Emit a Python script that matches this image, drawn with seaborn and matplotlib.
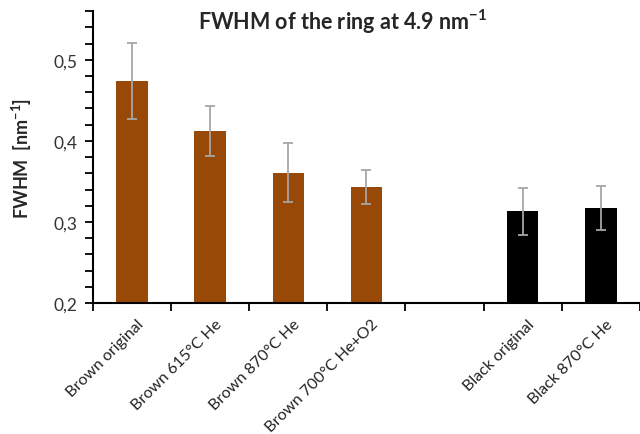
import numpy as np
import pandas as pd
import matplotlib
matplotlib.use("Agg")
import matplotlib.pyplot as plt
import matplotlib.transforms as mtransforms
from matplotlib.ticker import MultipleLocator, FuncFormatter
import seaborn as sns

# Sample names (one blank slot separates the brown and black groups)
samples = ["Brown original", "Brown 615°C He", "Brown 870°C He",
           "Brown 700°C He+O2", "", "Black original", "Black 870°C He"]
fwhm = [0.474, 0.412, 0.361, 0.343, np.nan, 0.313, 0.317]
fwhm_err = [0.047, 0.031, 0.036, 0.021, np.nan, 0.029, 0.027]
bar_colors = ["#984807", "#984807", "#984807", "#984807", "#ffffff", "#000000", "#000000"]

df = pd.DataFrame({"sample": samples, "fwhm": fwhm, "err": fwhm_err})

sns.set_theme(style="white")
plt.rcParams["font.family"] = ["Lato", "DejaVu Sans"]
plt.rcParams["mathtext.default"] = "regular"

fig = plt.figure(figsize=(6.4, 4.35), dpi=100)
ax = fig.add_axes([0.145, 0.301, 0.855, 0.671])

sns.barplot(data=df, x="sample", y="fwhm", hue="sample", order=samples,
            hue_order=samples, palette=bar_colors, legend=False,
            width=0.4, errorbar=None, ax=ax, linewidth=0, saturation=1)

xpos = np.arange(len(samples))
ax.errorbar(xpos, df["fwhm"], yerr=df["err"], fmt="none", ecolor="#a6a6a6",
            elinewidth=1.3, capsize=3.5, capthick=1.3)

ax.set_xlim(-0.5, len(samples) - 0.5)
ax.set_ylim(0.2, 0.56)

# y axis: comma decimals, major every 0.1, minor every 0.02
ax.yaxis.set_major_locator(MultipleLocator(0.1))
ax.yaxis.set_minor_locator(MultipleLocator(0.02))
ax.yaxis.set_major_formatter(FuncFormatter(lambda v, p: f"{v:.1f}".replace(".", ",")))
ax.tick_params(axis="y", which="both", direction="out", left=True, length=6,
               width=1.3, color="black", labelsize=12.5, labelcolor="#333333", pad=5)

# x axis: tick marks between categories, labels under bar centres
ax.set_xticks(np.arange(-0.5, len(samples), 1.0))
ax.set_xticklabels([])
ax.set_xticks(xpos, minor=True)
ax.set_xticklabels(samples, minor=True, rotation=45, ha="right",
                   rotation_mode="anchor", fontsize=11.5, color="#222222")
ax.tick_params(axis="x", which="major", direction="out", bottom=True, length=6,
               width=1.3, color="black")
ax.tick_params(axis="x", which="minor", bottom=False, length=0, pad=9)
shift = mtransforms.ScaledTranslation(5 / 100, -1 / 100, fig.dpi_scale_trans)
for lbl in ax.get_xticklabels(minor=True):
    lbl.set_transform(lbl.get_transform() + shift)

for side in ["top", "right"]:
    ax.spines[side].set_visible(False)
for side in ["left", "bottom"]:
    ax.spines[side].set_color("black")
    ax.spines[side].set_linewidth(1.5)

ax.set_xlabel("")
ax.set_ylabel("FWHM  [nm$^{-1}$]", fontsize=13, fontweight="bold", labelpad=14)
fig.text(343 / 640, 1 - 22 / 435, "FWHM of the ring at 4.9 nm$^{-1}$",
         fontsize=15.5, fontweight="bold", ha="center", va="center")

fig.savefig("out.png", dpi=100)
